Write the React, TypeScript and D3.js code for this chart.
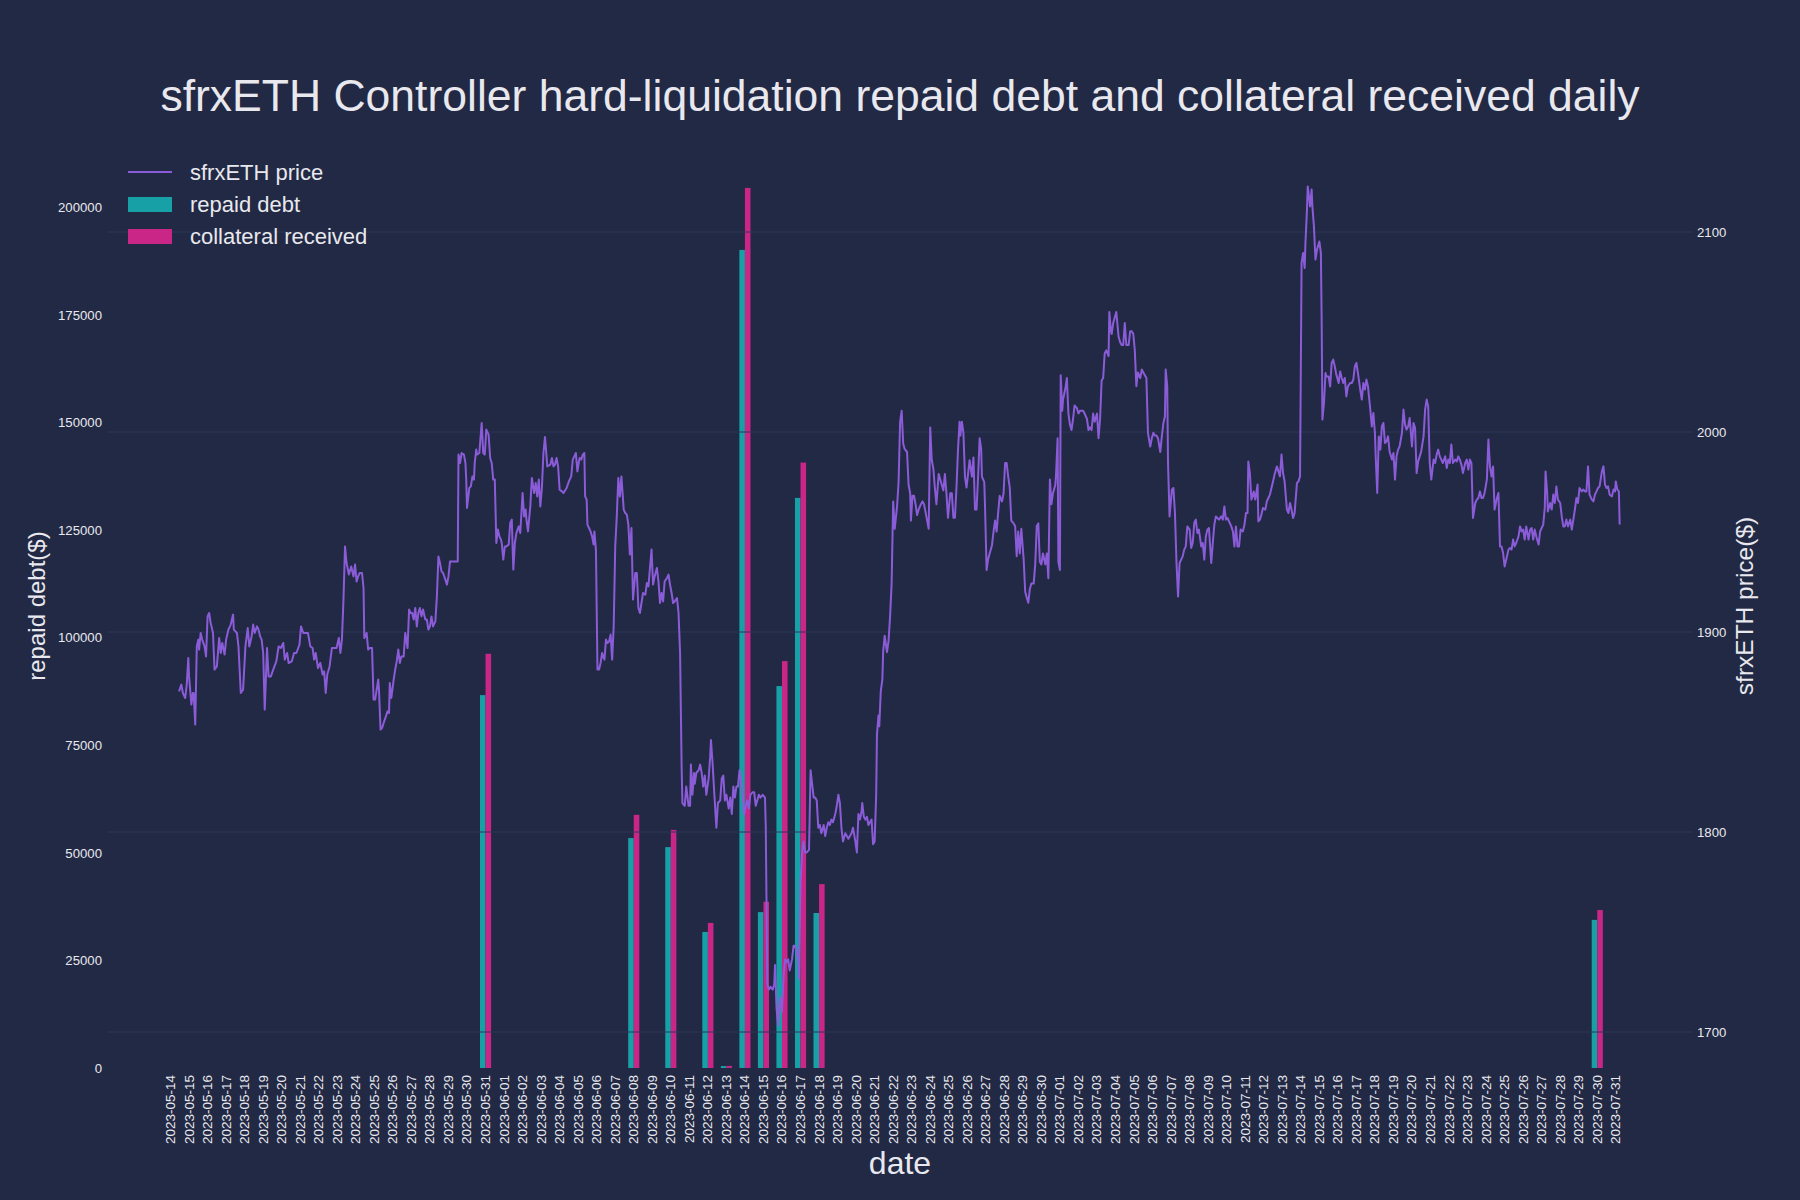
import React from "react";
import * as d3 from "d3";

// ---------- data ----------
const barDates = ["2023-05-31", "2023-06-08", "2023-06-10", "2023-06-12", "2023-06-13", "2023-06-14", "2023-06-15", "2023-06-16", "2023-06-17", "2023-06-18", "2023-07-30"];
const repaidDebt = [86600, 53400, 51300, 31600, 450, 190000, 36200, 88700, 132400, 36000, 34400];
const collateralReceived = [96200, 58800, 55300, 33700, 500, 204400, 38600, 94500, 140600, 42700, 36700];

// hours since 2023-05-14 00:00 UTC
const priceHour = [
  11, 14, 16, 19, 21, 23, 24, 27, 29, 30, 32, 34, 36, 37, 39, 41, 44, 46, 48, 50, 52, 55, 57, 60, 63, 65, 67, 70, 72, 75, 78, 81, 82, 86, 88, 91, 94, 97, 100, 102, 105, 107, 109, 112, 114, 116, 118, 120, 122, 125, 127, 130, 133, 137, 140, 143, 146, 148, 151, 153, 157, 160, 163, 167, 169, 172, 178, 181, 184, 186, 188, 191, 194, 197, 199, 201, 203, 206, 209, 215, 218, 220, 222, 224, 226, 228, 231, 234, 237, 239, 241, 243, 245, 248, 250, 251, 254, 256, 258, 261, 263, 265, 267, 269, 270, 272, 274, 276, 279, 281, 283, 284, 286, 289, 291, 293, 295, 297, 299, 302, 304, 307, 309, 311, 313, 315, 317, 319, 321, 323, 325, 327, 330, 332, 334, 336, 338, 340, 343, 345, 347, 349, 351, 353, 356, 358, 360, 362, 364, 372, 373, 375, 377, 380, 382, 383, 384, 387, 389, 391, 393, 394, 396, 397, 400, 403, 405, 407, 409, 412, 414, 416, 418, 420, 422, 424, 426, 428, 429, 431, 433, 435, 438, 440, 442, 444, 446, 448, 451, 453, 456, 458, 460, 461, 463, 466, 468, 471, 473, 475, 477, 479, 481, 483, 485, 486, 488, 492, 494, 496, 498, 500, 502, 504, 507, 509, 513, 516, 519, 521, 523, 525, 527, 529, 530, 532, 534, 536, 537, 539, 540, 542, 544, 546, 548, 549, 551, 553, 555, 557, 559, 562, 564, 566, 568, 570, 572, 574, 576, 578, 580, 582, 584, 587, 589, 591, 593, 595, 597, 599, 602, 604, 606, 608, 610, 612, 615, 617, 619, 621, 623, 625, 627, 630, 632, 634, 636, 638, 640, 643, 645, 647, 649, 651, 653, 656, 658, 660, 662,
  663, 666, 668, 671, 673, 674, 676, 678, 679, 681, 684, 686, 688, 690, 692, 694, 697, 699, 700, 702, 704, 707, 709, 712, 714, 716, 718, 720, 723, 725, 727, 729, 731, 733, 735, 737, 739, 741, 743, 745, 747, 749, 751, 754, 756, 758, 760, 762, 764, 767, 770, 771, 773, 775, 777, 780, 782, 783, 785, 787, 788, 790, 792, 794, 796, 798, 800, 802, 805, 807, 809, 811, 813, 814, 816, 818, 820, 822, 824, 827, 829, 831, 833, 835, 837, 839, 841, 843, 846, 848, 850, 852, 854, 856, 858, 861, 863, 865, 867, 869, 871, 874, 876, 878, 880, 882, 884, 887, 889, 891, 893, 895, 896, 898, 900, 902, 904, 906, 908, 910, 912, 914, 915, 917, 918, 920, 922, 923, 925, 928, 930, 932, 934, 936, 938, 941, 943, 945, 947, 949, 951, 954, 956, 958, 959, 961, 963, 965, 967, 969, 972, 974, 976, 978, 980, 982, 984, 986, 988, 990, 992, 995, 997, 999, 1001, 1003, 1005, 1007, 1010, 1012, 1014, 1016, 1018, 1020, 1022, 1023, 1025, 1027, 1029, 1031, 1033, 1035, 1038, 1040, 1042, 1044, 1046, 1048, 1050, 1051, 1054, 1055, 1057, 1059, 1061, 1064, 1066, 1068, 1070, 1072, 1074, 1077, 1079, 1081, 1083, 1085, 1087, 1089, 1092, 1094, 1096, 1098, 1100, 1102, 1105, 1107, 1109, 1111, 1113, 1115, 1118, 1120, 1122, 1124, 1126, 1128, 1130, 1133, 1135, 1137, 1139, 1141, 1143, 1146, 1147, 1149, 1150, 1152, 1153, 1155, 1156, 1159, 1161, 1163, 1165, 1167, 1169, 1171, 1174, 1176, 1178, 1182, 1184, 1187, 1189, 1191, 1193, 1195, 1197, 1200, 1202, 1204, 1206, 1208, 1210, 1212, 1215, 1216, 1218, 1219, 1221, 1223, 1225, 1228, 1230, 1232, 1234, 1236, 1238, 1241, 1243, 1245, 1247, 1249, 1251, 1253, 1256, 1258, 1260, 1262, 1264, 1266, 1269, 1271, 1273, 1275, 1277, 1279, 1282,
  1284, 1286, 1288, 1289, 1291, 1292, 1294, 1297, 1299, 1301, 1303, 1305, 1307, 1309, 1311, 1313, 1315, 1317, 1320, 1322, 1324, 1326, 1328, 1330, 1332, 1335, 1337, 1339, 1341, 1343, 1345, 1348, 1350, 1352, 1354, 1356, 1358, 1361, 1363, 1365, 1367, 1369, 1371, 1374, 1376, 1378, 1380, 1382, 1384, 1386, 1389, 1391, 1393, 1395, 1396, 1398, 1400, 1402, 1403, 1405, 1408, 1409, 1411, 1413, 1415, 1418, 1420, 1422, 1424, 1426, 1428, 1430, 1433, 1435, 1437, 1439, 1441, 1443, 1446, 1448, 1450, 1452, 1454, 1456, 1459, 1461, 1463, 1465, 1467, 1469, 1470, 1472, 1473, 1475, 1476, 1478, 1479, 1481, 1483, 1485, 1488, 1490, 1491, 1492, 1494, 1496, 1497, 1500, 1502, 1504, 1506, 1508, 1510, 1513, 1515, 1517, 1519, 1521, 1523, 1525, 1528, 1530, 1532, 1534, 1536, 1538, 1541, 1543, 1545, 1547, 1549, 1551, 1554, 1556, 1558, 1560, 1561, 1563, 1565, 1567, 1569, 1571, 1573, 1575, 1577, 1579, 1582, 1584, 1586, 1588, 1590, 1592, 1595, 1597, 1599, 1601, 1603, 1605, 1608, 1610, 1612, 1614, 1616, 1618, 1620, 1623, 1625, 1627, 1629, 1631, 1633, 1636, 1638, 1640, 1642, 1644, 1646, 1648, 1651, 1653, 1655, 1657, 1659, 1661, 1664, 1666, 1668, 1670, 1672, 1674, 1677, 1679, 1681, 1683, 1685, 1687, 1690, 1692, 1694, 1696, 1698, 1700, 1702, 1705, 1707, 1709, 1711, 1713, 1715, 1718, 1720, 1722, 1724, 1726, 1728, 1731, 1733, 1735, 1737, 1739, 1741, 1743, 1746, 1748, 1750, 1752, 1754, 1756, 1759, 1761, 1763, 1765, 1767, 1769, 1772, 1774, 1776, 1778, 1780, 1781, 1783, 1784, 1787, 1789, 1791, 1793, 1795, 1797, 1800, 1802, 1804, 1806, 1808, 1810, 1813, 1815, 1817, 1819, 1821, 1823, 1825, 1828, 1830, 1832, 1834, 1836, 1838, 1841, 1843, 1845, 1847, 1849, 1851, 1854, 1856, 1858, 1860, 1862, 1864, 1867, 1869, 1871, 1872, 1874, 1876, 1877,
];
const priceUsd = [
  1870.3, 1873.7, 1869.5, 1867.0, 1873.7, 1887.0, 1877.8, 1863.7, 1869.5, 1869.5, 1853.7, 1892.8, 1896.2, 1891.2, 1899.5, 1896.2, 1892.8, 1887.8, 1907.8, 1909.5, 1904.5, 1899.5, 1881.2, 1882.8, 1897.0, 1889.5, 1894.5, 1888.7, 1896.2, 1901.2, 1903.7, 1908.7, 1901.2, 1899.5, 1892.8, 1869.5, 1871.2, 1892.8, 1902.0, 1892.8, 1897.8, 1903.7, 1899.5, 1902.8, 1901.2, 1897.8, 1896.2, 1889.5, 1861.2, 1892.0, 1877.8, 1877.8, 1881.2, 1885.3, 1892.8, 1892.0, 1894.5, 1886.2, 1889.5, 1884.5, 1885.3, 1889.5, 1889.5, 1893.7, 1902.8, 1899.5, 1899.5, 1892.8, 1892.0, 1886.2, 1889.5, 1882.0, 1884.5, 1878.7, 1880.3, 1869.5, 1878.7, 1882.8, 1892.0, 1892.0, 1897.0, 1889.5, 1896.2, 1916.2, 1942.8, 1934.5, 1928.7, 1932.8, 1927.8, 1933.7, 1925.3, 1927.8, 1929.5, 1929.5, 1922.0, 1897.0, 1899.5, 1891.2, 1892.0, 1892.0, 1866.2, 1866.2, 1871.2, 1876.2, 1871.2, 1851.2, 1852.0, 1854.5, 1857.8, 1860.3, 1859.5, 1874.5, 1867.0, 1876.2, 1881.2, 1885.3, 1891.2, 1884.5, 1887.8, 1887.8, 1899.5, 1892.0, 1911.2, 1909.5, 1909.5, 1906.2, 1912.0, 1902.8, 1909.5, 1912.0, 1907.8, 1911.2, 1906.2, 1906.2, 1901.2, 1902.8, 1907.8, 1902.8, 1905.3, 1917.8, 1937.8, 1934.5, 1930.3, 1929.5, 1926.2, 1923.7, 1927.8, 1935.3, 1935.3, 1935.3, 1988.7, 1984.5, 1989.5, 1988.7, 1984.5, 1976.2, 1962.0, 1972.0, 1972.8, 1977.8, 1976.2, 1984.5, 1991.2, 1988.7, 1989.5, 2004.5, 1989.5, 1988.7, 2001.2, 1998.7, 1987.0, 1984.5, 1976.2, 1976.2, 1944.5, 1951.2, 1947.8, 1946.2, 1944.5, 1936.2, 1942.8, 1942.8, 1943.7, 1954.5, 1956.2, 1931.2, 1944.5, 1949.5, 1952.8, 1949.5, 1969.5, 1957.8, 1961.2, 1956.2, 1950.3, 1962.8, 1977.0, 1969.5, 1974.5, 1967.8, 1976.2, 1962.8, 1972.0, 1989.5, 1997.5, 1992.8, 1982.8, 1983.7, 1987.0, 1982.8, 1983.7, 1987.0, 1982.8, 1971.2, 1970.3, 1969.5, 1972.0, 1975.3, 1977.8, 1986.2, 1987.8, 1989.5, 1980.3, 1985.3, 1987.0, 1986.2, 1988.7, 1989.5, 1967.8, 1966.2, 1953.7, 1952.0, 1950.3, 1947.8, 1943.7, 1950.3, 1941.2, 1881.2, 1881.2, 1884.5, 1889.5, 1886.2, 1896.2, 1894.5, 1895.3, 1898.7, 1886.2, 1902.8, 1942.8, 1957.8, 1977.0, 1967.8, 1977.8, 1961.2, 1959.5, 1958.7, 1953.7, 1938.7, 1952.0, 1916.2, 1929.5, 1929.5, 1912.0, 1909.5, 1914.5, 1919.5, 1918.7, 1924.5, 1922.8, 1932.0, 1941.2, 1923.7, 1927.8, 1932.0, 1925.3, 1914.5, 1919.5, 1915.3, 1925.3, 1927.0, 1928.7, 1923.7, 1919.5, 1914.5, 1915.3, 1917.0, 1909.5, 1889.5, 1832.8,
  1814.5, 1813.1, 1822.7, 1813.1, 1813.1, 1833.7, 1818.6, 1829.5, 1824.1, 1829.5, 1830.9, 1833.7, 1829.5, 1822.7, 1828.2, 1818.6, 1826.8, 1837.8, 1846.0, 1835.0, 1821.3, 1802.1, 1814.5, 1815.8, 1826.8, 1828.2, 1815.8, 1818.6, 1811.7, 1817.2, 1809.0, 1822.7, 1817.2, 1822.7, 1822.7, 1830.9, 1825.4, 1818.6, 1809.0, 1813.1, 1815.8, 1811.7, 1818.6, 1819.9, 1819.9, 1813.1, 1815.8, 1818.6, 1817.2, 1818.6, 1817.2, 1802.1, 1723.9, 1721.2, 1722.6, 1721.2, 1723.9, 1733.5, 1711.6, 1703.4, 1710.2, 1717.1, 1710.2, 1728.1, 1736.3, 1734.9, 1736.3, 1730.8, 1736.3, 1743.1, 1743.1, 1740.4, 1736.3, 1726.7, 1774.7, 1789.8, 1795.3, 1789.8, 1789.8, 1791.1, 1830.9, 1824.1, 1817.2, 1817.2, 1815.8, 1802.1, 1803.5, 1799.4, 1803.5, 1798.0, 1802.1, 1804.9, 1803.5, 1806.2, 1804.9, 1809.0, 1813.1, 1818.6, 1814.5, 1802.1, 1795.3, 1799.4, 1798.0, 1796.6, 1798.0, 1799.4, 1802.1, 1795.3, 1789.8, 1809.0, 1806.2, 1810.3, 1814.5, 1807.6, 1806.2, 1807.6, 1803.5, 1804.9, 1806.2, 1793.9, 1795.3, 1818.6, 1848.7, 1858.3, 1852.9, 1870.7, 1876.2, 1889.9, 1898.1, 1889.9, 1895.4, 1907.7, 1924.2, 1965.3, 1951.6, 1962.6, 1974.9, 2005.1, 2010.6, 1994.1, 1991.4, 1990.0, 1973.5, 1969.4, 1955.7, 1968.1, 1968.1, 1963.9, 1958.5, 1961.2, 1963.9, 1965.3, 1963.9, 1959.8, 1955.7, 1951.6, 2002.3, 1985.9, 1981.8, 1972.2, 1963.9, 1979.0, 1976.3, 1973.5, 1970.8, 1979.0, 1969.4, 1957.1, 1969.4, 1969.4, 1957.1, 1957.1, 1972.2, 1991.4, 2005.1, 1998.2, 2005.1, 1999.6, 1977.7, 1972.2, 1979.0, 1985.9, 1977.7, 1987.3, 1961.2, 1961.2, 1977.7, 1996.9, 1991.4, 1977.7, 1974.9, 1962.6, 1931.0, 1936.5, 1939.3, 1943.4, 1950.2, 1955.7, 1950.2, 1959.8, 1968.1, 1965.3, 1969.4, 1984.5, 1984.5, 1977.7, 1972.2, 1955.7, 1954.3, 1953.0, 1937.9, 1950.2, 1939.3, 1951.6, 1936.5, 1920.1, 1917.3, 1914.6, 1921.4, 1924.2, 1924.2, 1933.8, 1953.0, 1954.3, 1935.1, 1933.8, 1939.3, 1933.8, 1939.3, 1926.9, 1976.3, 1963.9, 1969.4, 1973.5, 1979.0, 1996.9, 1935.1, 1931.0, 2028.4, 2010.6, 2016.1, 2021.6, 2027.0, 2009.2, 2003.7, 2001.0, 2006.5, 2013.3, 2011.9, 2009.2, 2010.6, 2010.6, 2009.2, 2006.5, 2001.0, 2002.3, 2001.0, 2009.2, 2005.1, 2009.2, 1996.9, 2006.5, 2025.7, 2027.0, 2039.4, 2040.8, 2038.0, 2060.0, 2050.4, 2049.0, 2054.5, 2057.2, 2060.0, 2047.6, 2044.9, 2043.5, 2043.5, 2054.5, 2043.5, 2043.5, 2050.4, 2050.4, 2049.0, 2040.8, 2022.9, 2029.8, 2027.0, 2031.2, 2029.8, 2028.4, 2027.0, 1999.6, 1992.7, 1996.9, 1999.6, 1998.2, 1998.2, 1996.9, 1990.0,
  1997.8, 2004.5, 2007.8, 2031.2, 2022.8, 1984.5, 1957.8, 1971.2, 1972.0, 1959.5, 1934.5, 1917.8, 1934.5, 1936.2, 1937.8, 1941.2, 1942.8, 1952.8, 1951.2, 1942.0, 1944.5, 1954.5, 1956.2, 1949.5, 1951.2, 1942.8, 1944.5, 1936.2, 1947.8, 1951.2, 1952.0, 1934.5, 1944.5, 1953.7, 1957.8, 1957.0, 1956.2, 1957.8, 1956.2, 1962.8, 1956.2, 1957.0, 1955.3, 1952.8, 1950.3, 1942.8, 1952.8, 1942.8, 1942.8, 1951.2, 1950.3, 1953.7, 1959.5, 1959.5, 1985.3, 1979.5, 1966.2, 1968.7, 1970.3, 1966.2, 1973.7, 1955.3, 1956.2, 1958.7, 1962.0, 1961.2, 1965.3, 1967.0, 1968.7, 1972.0, 1975.3, 1978.7, 1982.8, 1980.3, 1977.8, 1988.7, 1979.5, 1975.3, 1961.2, 1959.5, 1964.5, 1961.2, 1957.0, 1959.5, 1974.5, 1975.3, 1977.8, 2084.5, 2089.5, 2082.0, 2094.5, 2111.2, 2122.8, 2116.2, 2112.8, 2121.2, 2112.8, 2102.8, 2086.2, 2091.2, 2095.3, 2089.5, 2056.2, 2006.2, 2014.5, 2029.5, 2027.8, 2027.8, 2022.8, 2034.5, 2036.2, 2032.8, 2028.7, 2024.5, 2030.3, 2027.0, 2024.5, 2027.0, 2017.8, 2022.8, 2024.5, 2024.5, 2026.2, 2032.8, 2034.5, 2029.5, 2021.2, 2016.2, 2024.5, 2021.2, 2026.2, 2022.8, 2011.2, 2002.8, 2009.5, 1999.5, 1987.8, 1969.5, 1997.8, 1991.2, 2002.8, 2004.5, 1994.5, 1995.3, 1997.8, 1990.3, 1986.2, 1989.5, 1976.2, 1987.8, 1991.2, 1992.8, 1999.5, 2011.2, 2003.7, 2001.2, 2002.8, 2007.0, 1992.8, 2004.5, 2002.0, 1979.5, 1985.3, 1987.8, 1990.3, 1997.8, 2011.2, 2016.2, 2012.8, 1984.5, 1976.2, 1986.2, 1984.5, 1988.7, 1991.2, 1987.8, 1986.2, 1984.5, 1987.8, 1982.0, 1986.2, 1984.5, 1993.7, 1984.5, 1986.2, 1985.3, 1987.8, 1986.2, 1983.7, 1979.5, 1984.5, 1986.2, 1981.2, 1986.2, 1984.5, 1957.0, 1964.5, 1966.2, 1967.0, 1970.3, 1967.0, 1967.0, 1969.5, 1976.2, 1996.2, 1982.8, 1977.8, 1982.8, 1961.2, 1967.0, 1969.5, 1942.8, 1942.8, 1939.5, 1932.8, 1937.8, 1941.2, 1942.0, 1941.2, 1946.2, 1942.8, 1944.5, 1947.8, 1952.8, 1950.3, 1951.2, 1946.2, 1952.8, 1946.2, 1951.2, 1952.0, 1946.2, 1951.2, 1947.8, 1943.7, 1950.3, 1952.0, 1953.7, 1962.0, 1980.3, 1970.3, 1960.3, 1964.5, 1961.2, 1968.7, 1964.5, 1972.8, 1966.2, 1964.5, 1957.8, 1952.8, 1952.8, 1956.2, 1952.8, 1956.2, 1951.2, 1956.2, 1961.2, 1967.0, 1964.5, 1972.0, 1970.3, 1971.2, 1970.3, 1970.3, 1982.8, 1968.7, 1966.2, 1965.3, 1968.7, 1970.3, 1972.0, 1972.8, 1980.3, 1982.8, 1973.7, 1972.0, 1972.8, 1968.7, 1967.8, 1971.2, 1970.3, 1975.3, 1971.2, 1970.3, 1953.7,
];

const leftTicks = [0, 25000, 50000, 75000, 100000, 125000, 150000, 175000, 200000];
const rightTicks = [1700, 1800, 1900, 2000, 2100];
const firstTickDay = "2023-05-14";
const lastTickDay = "2023-07-31";

const titleText = "sfrxETH Controller hard-liquidation repaid debt and collateral received daily";
const legendLabels = ["sfrxETH price", "repaid debt", "collateral received"];

// ---------- layout ----------
const W = 1800;
const H = 1200;
const M = { left: 108, right: 1692, top: 144, bottom: 1068 };
const BG = "#222944";
const GRID = "#2d3759";
const TEXT = "#e8e8ee";
const TEAL = "#17a1a7";
const MAGENTA = "#c92688";
const PURPLE = "#8b5cd8";
const FONT = "'Liberation Sans', Arial, Helvetica, sans-serif";

const HOUR = 3600 * 1000;
const parseDay = (s: string) => {
  const [y, m, d] = s.split("-").map(Number);
  return new Date(Date.UTC(y, m - 1, d));
};
const t0 = parseDay(firstTickDay).getTime();

export default function App() {
  const x = d3
    .scaleUtc()
    .domain([new Date(t0 - 81 * HOUR), new Date(parseDay(lastTickDay).getTime() + 98.7 * HOUR)])
    .range([M.left, M.right]);
  const yL = d3.scaleLinear().domain([0, 214600]).range([M.bottom, M.top]);
  const yR = d3.scaleLinear().domain([1682, 2144]).range([M.bottom, M.top]);

  const dayW = x(new Date(t0 + 24 * HOUR)) - x(new Date(t0));
  const barW = dayW * 0.3;

  const tickDays = d3.utcDay.range(parseDay(firstTickDay), new Date(parseDay(lastTickDay).getTime() + HOUR));

  const pts = priceHour.map((h, i) => ({ t: new Date(t0 + h * HOUR), p: priceUsd[i] }));
  const line = d3
    .line<{ t: Date; p: number }>()
    .x((d) => x(d.t))
    .y((d) => yR(d.p));

  return (
    <svg
      width={W}
      height={H}
      style={{ position: "absolute", left: 0, top: 0, background: BG }}
      fontFamily={FONT}
    >
      <rect x={0} y={0} width={W} height={H} fill={BG} />
      <defs>
        <clipPath id="plotclip">
          <rect x={M.left} y={M.top} width={M.right - M.left} height={M.bottom - M.top} />
        </clipPath>
      </defs>

      {/* bars */}
      <g clipPath="url(#plotclip)">
        {barDates.map((d, i) => {
          const cx = x(parseDay(d));
          return (
            <g key={d}>
              <rect x={cx - barW} y={yL(repaidDebt[i])} width={barW} height={yL(0) - yL(repaidDebt[i])} fill={TEAL} />
              <rect x={cx} y={yL(collateralReceived[i])} width={barW} height={yL(0) - yL(collateralReceived[i])} fill={MAGENTA} />
            </g>
          );
        })}
      </g>

      {/* grid of right axis (drawn over bars) */}
      {rightTicks.map((t) => (
        <line key={t} x1={M.left} x2={M.right} y1={yR(t)} y2={yR(t)} stroke={GRID} strokeWidth={1} />
      ))}

      {/* price line */}
      <g clipPath="url(#plotclip)">
        <path d={line(pts) || ""} fill="none" stroke={PURPLE} strokeWidth={2} strokeLinejoin="round" />
      </g>

      {/* left ticks */}
      {leftTicks.map((t) => (
        <text key={t} x={M.left - 6} y={yL(t)} dy="0.38em" textAnchor="end" fontSize={13.2} fill={TEXT}>
          {t}
        </text>
      ))}
      {/* right ticks */}
      {rightTicks.map((t) => (
        <text key={t} x={M.right + 5} y={yR(t)} dy="0.38em" textAnchor="start" fontSize={13.2} fill={TEXT}>
          {t}
        </text>
      ))}
      {/* x ticks */}
      {tickDays.map((d) => (
        <text
          key={d.toISOString()}
          transform={`translate(${x(d)},${1075}) rotate(-90)`}
          dy="4.5"
          textAnchor="end"
          fontSize={13.5}
          fill={TEXT}
        >
          {d3.utcFormat("%Y-%m-%d")(d)}
        </text>
      ))}

      {/* axis titles */}
      <text x={(M.left + M.right) / 2} y={1174} textAnchor="middle" fontSize={32} fill={TEXT}>
        date
      </text>
      <text transform={`translate(45,${(M.top + M.bottom) / 2}) rotate(-90)`} textAnchor="middle" fontSize={24} fill={TEXT}>
        repaid debt($)
      </text>
      <text transform={`translate(1753,${(M.top + M.bottom) / 2}) rotate(-90)`} textAnchor="middle" fontSize={24.5} fill={TEXT}>
        sfrxETH price($)
      </text>

      {/* title */}
      <text x={900} y={111} textAnchor="middle" fontSize={44.5} fill={TEXT}>
        {titleText}
      </text>

      {/* legend */}
      <g>
        <line x1={128} x2={172} y1={172} y2={172} stroke={PURPLE} strokeWidth={2} />
        <text x={190} y={180} fontSize={22} fill={TEXT}>{legendLabels[0]}</text>
        <rect x={128} y={197} width={44} height={15} fill={TEAL} />
        <text x={190} y={212} fontSize={22} fill={TEXT}>{legendLabels[1]}</text>
        <rect x={128} y={229} width={44} height={15} fill={MAGENTA} />
        <text x={190} y={244} fontSize={22} fill={TEXT}>{legendLabels[2]}</text>
      </g>
    </svg>
  );
}
